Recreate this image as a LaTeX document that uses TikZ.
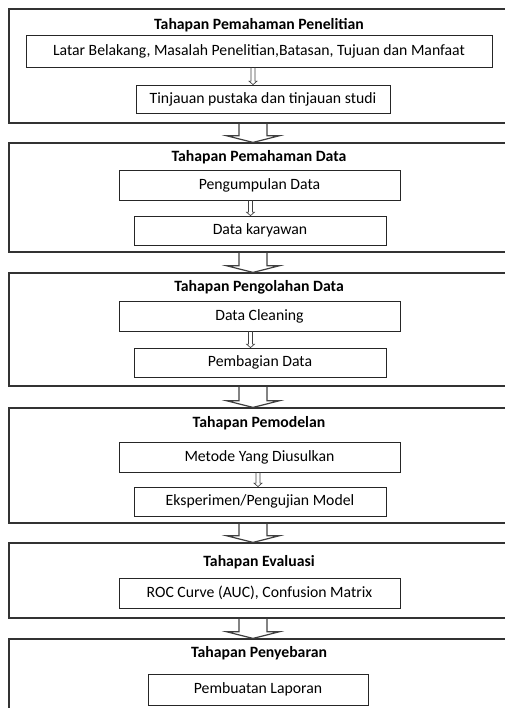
\documentclass[tikz,border=0pt]{standalone}
\usepackage{fontspec}
\setmainfont{Carlito}
\tikzset{stage/.style={rectangle,draw=black!80,line width=0.9pt,minimum width=384pt,inner sep=0pt},
    inbox/.style={rectangle,draw=black!85,line width=0.6pt,inner sep=0pt},
    title/.style={font=\fontsize{11.8}{14}\selectfont\bfseries},
    smallarrow/.style={draw=black!75,line width=0.5pt,line join=miter},
    bigarrow/.style={draw=black!75,line width=0.9pt,line join=miter}}

\begin{document}
\begin{tikzpicture}[x=0.75pt,y=-0.75pt,font=\fontsize{11.8}{14}\selectfont]
    \useasboundingbox (0,0) rectangle (505,708);
    \clip (0,0) rectangle (505,708);
    % tahap-tahap
    \node[stage,minimum height=85.5pt] (s1) at (265,66) {};
    \node[stage,minimum height=81.75pt] (s2) at (265,197.5) {};
    \node[stage,minimum height=84.75pt] (s3) at (265,329.5) {};
    \node[stage,minimum height=86.25pt] (s4) at (265,465.5) {};
    \node[stage,minimum height=56.25pt] (s5) at (265,580.5) {};
    \node[stage,minimum height=75.75pt] (s6) at (265,689.5) {};
    \node[title] (t1) at (259,25) {Tahapan Pemahaman Penelitian};
    \node[title] (t2) at (259,157) {Tahapan Pemahaman Data};
    \node[title] (t3) at (259,287) {Tahapan Pengolahan Data};
    \node[title] (t4) at (259,423) {Tahapan Pemodelan};
    \node[title] (t5) at (259,562) {Tahapan Evaluasi};
    \node[title] (t6) at (259,653) {Tahapan Penyebaran};
    % isi tiap tahap
    \node[inbox,minimum width=349.5pt,minimum height=24pt] (b11) at (259,51) {Latar Belakang, Masalah Penelitian,Batasan, Tujuan dan Manfaat};
    \node[inbox,minimum width=190.5pt,minimum height=21pt] (b12) at (263,99) {Tinjauan pustaka dan tinjauan studi};
    \node[inbox,minimum width=210.75pt,minimum height=22.5pt] (b21) at (259.5,185) {Pengumpulan Data};
    \node[inbox,minimum width=189pt,minimum height=21.75pt] (b22) at (260,230.5) {Data karyawan};
    \node[inbox,minimum width=210.75pt,minimum height=22.5pt] (b31) at (259.5,316) {Data Cleaning};
    \node[inbox,minimum width=189pt,minimum height=21.75pt] (b32) at (260,362.5) {Pembagian Data};
    \node[inbox,minimum width=210.75pt,minimum height=22.5pt] (b41) at (259.5,457) {Metode Yang Diusulkan};
    \node[inbox,minimum width=189pt,minimum height=21.75pt] (b42) at (260,501.5) {Eksperimen/Pengujian Model};
    \node[inbox,minimum width=210.75pt,minimum height=22.5pt] (b51) at (259.5,593) {ROC Curve (AUC), Confusion Matrix};
    \node[inbox,minimum width=165pt,minimum height=23.25pt] (b61) at (258,689.5) {Pembuatan Laporan};
    % panah kecil
    \draw[smallarrow] ([xshift=-6pt]b11.south) -- ([xshift=-9pt,yshift=2.6pt]b12.north) -- ++(-2,0) -- ([xshift=-7.5pt]b12.north) -- ++(4,-3.5) -- ++(-2,0) -- ([xshift=-3pt]b11.south);
    \draw[smallarrow] ([xshift=-8.25pt]b21.south) -- ([xshift=-8.625pt,yshift=2.6pt]b22.north) -- ++(-2,0) -- ([xshift=-7.125pt]b22.north) -- ++(4,-3.5) -- ++(-2,0) -- ([xshift=-5.25pt]b21.south);
    \draw[smallarrow] ([xshift=-8.25pt]b31.south) -- ([xshift=-8.625pt,yshift=2.6pt]b32.north) -- ++(-2,0) -- ([xshift=-7.125pt]b32.north) -- ++(4,-3.5) -- ++(-2,0) -- ([xshift=-5.25pt]b31.south);
    \draw[smallarrow] ([xshift=-2.625pt]b41.south) -- ([xshift=-3pt,yshift=2.6pt]b42.north) -- ++(-2,0) -- ([xshift=-1.5pt]b42.north) -- ++(4,-3.5) -- ++(-2,0) -- ([xshift=0.375pt]b41.south);
    % panah besar
    \draw[bigarrow] ([xshift=-19.5pt]s1.south) -- ([xshift=-19.5pt,yshift=5pt]s2.north) -- ++(-12.5,0) -- ([xshift=-9pt]s2.north) -- ++(26.5,-6.67) -- ++(-12.5,0) -- ([xshift=1.5pt]s1.south);
    \draw[bigarrow] ([xshift=-19.5pt]s2.south) -- ([xshift=-19.5pt,yshift=5pt]s3.north) -- ++(-12.5,0) -- ([xshift=-9pt]s3.north) -- ++(26.5,-6.67) -- ++(-12.5,0) -- ([xshift=1.5pt]s2.south);
    \draw[bigarrow] ([xshift=-19.5pt]s3.south) -- ([xshift=-19.5pt,yshift=5pt]s4.north) -- ++(-12.5,0) -- ([xshift=-9pt]s4.north) -- ++(26.5,-6.67) -- ++(-12.5,0) -- ([xshift=1.5pt]s3.south);
    \draw[bigarrow] ([xshift=-19.5pt]s4.south) -- ([xshift=-19.5pt,yshift=5pt]s5.north) -- ++(-12.5,0) -- ([xshift=-9pt]s5.north) -- ++(26.5,-6.67) -- ++(-12.5,0) -- ([xshift=1.5pt]s4.south);
    \draw[bigarrow] ([xshift=-19.5pt]s5.south) -- ([xshift=-19.5pt,yshift=5pt]s6.north) -- ++(-12.5,0) -- ([xshift=-9pt]s6.north) -- ++(26.5,-6.67) -- ++(-12.5,0) -- ([xshift=1.5pt]s5.south);
\end{tikzpicture}
\end{document}
